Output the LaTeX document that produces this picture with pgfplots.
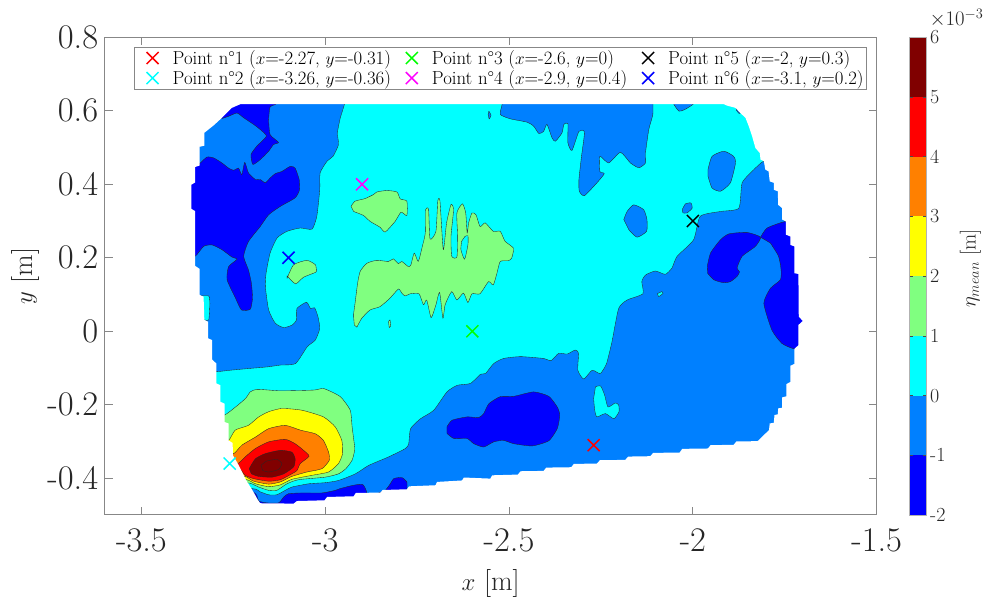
\documentclass[border=0pt]{standalone}
\usepackage{pgfplots}
\pgfplotsset{compat=1.18}
\definecolor{cA}{RGB}{0,0,255}
\definecolor{cB}{RGB}{0,128,255}
\definecolor{cC}{RGB}{0,255,255}
\definecolor{cD}{RGB}{128,255,128}
\definecolor{cE}{RGB}{255,255,0}
\definecolor{cF}{RGB}{255,128,0}
\definecolor{cG}{RGB}{255,0,0}
\definecolor{cH}{RGB}{128,0,0}
\definecolor{mG}{RGB}{0,255,0}
\definecolor{mM}{RGB}{255,0,255}
\definecolor{tc}{RGB}{38,38,38}
\definecolor{axc}{RGB}{135,135,135}
\pgfplotsset{ctr/.style={fill=#1,draw=black!85,line width=0.35pt,line join=round,smooth,tension=0.35,forget plot},
 pt/.style={only marks,mark=x,mark size=8.5pt,#1,mark options={line width=1.5pt}}}
\begin{document}
\begin{tikzpicture}
\useasboundingbox (-104.7pt,-86pt) rectangle (882.3pt,515pt);
\begin{axis}[
  scale only axis,width=772pt,height=477.7pt,
  xmin=-3.6,xmax=-1.5,ymin=-0.5,ymax=0.8,
  axis on top,
  xtick={-3.5,-3,-2.5,-2,-1.5},xticklabels={-3.5,-3,-2.5,-2,-1.5},
  ytick={-0.4,-0.2,0,0.2,0.4,0.6,0.8},yticklabels={-0.4,-0.2,0,0.2,0.4,0.6,0.8},
  tick align=inside,major tick length=8pt,
  tick style={axc,line width=0.9pt},
  axis line style={axc,line width=1pt},
  ticklabel style={text=tc},
  tick label style={font=\fontsize{34.5}{36}\selectfont},
  xticklabel style={yshift=-10pt},
  yticklabel style={xshift=-3pt},
  xlabel={$x$ [m]},ylabel={$y$ [m]},
  label style={font=\fontsize{28}{30}\selectfont,text=tc},
  xlabel style={at={(axis description cs:0.5,-0.144)},anchor=center},
  ylabel style={at={(axis description cs:-0.103,0.5)},anchor=center},
  legend columns=3,legend cell align=left,
  legend image code/.code={\path (-17pt,0pt) (17.7pt,0pt);\draw[#1] plot coordinates {(0pt,0pt)};},
  legend style={at={(rel axis cs:0.0383,0.980)},anchor=north west,draw=axc,line width=0.8pt,
    font=\fontsize{18.8}{21}\selectfont,inner xsep=0.5pt,inner ysep=1pt,row sep=0.5pt,
    /tikz/every even column/.append style={column sep=1.5pt}},
]
% azure base (-1 to 0)
\addplot[fill=cB,draw=none,forget plot] coordinates {(-3.45,0.65)(-1.65,0.65)(-1.65,-0.5)(-3.45,-0.5)} -- cycle;
% dark blue patches
\addplot[ctr=cA] coordinates {(-3.281,0.579)(-3.263,0.585)(-3.240,0.594)(-3.222,0.581)(-3.195,0.563)(-3.177,0.549)(-3.160,0.531)(-3.186,0.504)(-3.202,0.481)(-3.197,0.454)(-3.177,0.467)(-3.154,0.490)(-3.141,0.508)(-3.127,0.514)(-3.150,0.535)(-3.154,0.576)(-3.150,0.611)(-3.136,0.617)(-3.136,0.631)(-3.304,0.631)(-3.304,0.604)} -- cycle;
\addplot[ctr=cA] coordinates {(-3.385,0.458)(-3.354,0.449)(-3.340,0.458)(-3.322,0.474)(-3.304,0.472)(-3.281,0.458)(-3.263,0.444)(-3.249,0.438)(-3.236,0.444)(-3.227,0.426)(-3.219,0.460)(-3.209,0.431)(-3.190,0.413)(-3.177,0.413)(-3.163,0.404)(-3.150,0.417)(-3.136,0.429)(-3.118,0.435)(-3.095,0.449)(-3.082,0.444)(-3.071,0.413)(-3.070,0.385)(-3.082,0.363)(-3.122,0.340)(-3.154,0.317)(-3.177,0.285)(-3.209,0.244)(-3.222,0.204)(-3.209,0.167)(-3.201,0.131)(-3.198,0.090)(-3.204,0.060)(-3.228,0.058)(-3.244,0.090)(-3.267,0.140)(-3.263,0.176)(-3.240,0.196)(-3.254,0.202)(-3.281,0.222)(-3.308,0.235)(-3.331,0.231)(-3.354,0.204)(-3.385,0.204)} -- cycle;
\addplot[ctr=cA] coordinates {(-1.961,0.176)(-1.952,0.213)(-1.925,0.249)(-1.902,0.265)(-1.853,0.269)(-1.816,0.256)(-1.830,0.231)(-1.866,0.204)(-1.880,0.172)(-1.873,0.162)(-1.880,0.149)(-1.898,0.135)(-1.916,0.132)(-1.943,0.140)(-1.960,0.158)} -- cycle;
\addplot[ctr=cA] coordinates {(-1.816,0.256)(-1.798,0.281)(-1.747,0.299)(-1.680,0.299)(-1.680,-0.048)(-1.724,-0.048)(-1.758,-0.033)(-1.785,0.003)(-1.807,0.076)(-1.789,0.117)(-1.762,0.140)(-1.760,0.167)(-1.767,0.204)(-1.789,0.240)} -- cycle;
\addplot[ctr=cA] coordinates {(-2.669,-0.260)(-2.655,-0.242)(-2.614,-0.233)(-2.583,-0.235)(-2.569,-0.224)(-2.555,-0.197)(-2.524,-0.178)(-2.487,-0.177)(-2.433,-0.165)(-2.392,-0.177)(-2.369,-0.206)(-2.362,-0.228)(-2.369,-0.265)(-2.392,-0.298)(-2.437,-0.312)(-2.487,-0.306)(-2.515,-0.297)(-2.542,-0.301)(-2.569,-0.315)(-2.596,-0.306)(-2.614,-0.292)(-2.650,-0.292)(-2.669,-0.278)} -- cycle;
\addplot[ctr=cA] coordinates {(-3.218,-0.438)(-3.195,-0.438)(-3.186,-0.447)(-3.181,-0.462)(-3.159,-0.467)(-3.127,-0.467)(-3.113,-0.451)(-3.100,-0.442)(-3.063,-0.440)(-3.009,-0.440)(-2.973,-0.433)(-2.959,-0.428)(-2.923,-0.419)(-2.898,-0.417)(-2.887,-0.440)(-2.887,-0.497)(-3.218,-0.497)} -- cycle;
\addplot[ctr=cA] coordinates {(-2.855,-0.440)(-2.837,-0.433)(-2.823,-0.415)(-2.814,-0.401)(-2.792,-0.398)(-2.778,-0.410)(-2.778,-0.430)(-2.778,-0.497)(-2.855,-0.497)} -- cycle;
% cyan (0 to 1)
\addplot[ctr=cC] coordinates {(-2.948,0.631)(-2.948,0.617)(-2.959,0.581)(-2.967,0.540)(-2.964,0.508)(-2.979,0.476)(-2.995,0.463)(-3.014,0.431)(-3.015,0.385)(-3.023,0.313)(-3.036,0.278)(-3.068,0.281)(-3.104,0.272)(-3.131,0.254)(-3.150,0.213)(-3.161,0.158)(-3.163,0.122)(-3.154,0.058)(-3.136,0.022)(-3.113,0.010)(-3.090,0.017)(-3.078,0.031)(-3.077,0.062)(-3.051,0.079)(-3.040,0.062)(-3.029,0.064)(-3.020,0.040)(-3.015,0.008)(-3.027,-0.024)(-3.049,-0.042)(-3.081,-0.088)(-3.122,-0.092)(-3.158,-0.097)(-3.204,-0.101)(-3.258,-0.106)(-3.296,-0.110)(-3.349,-0.110)(-3.349,-0.424)(-3.199,-0.428)(-3.177,-0.437)(-3.154,-0.445)(-3.132,-0.445)(-3.109,-0.433)(-3.091,-0.424)(-3.045,-0.415)(-3.000,-0.412)(-2.964,-0.406)(-2.918,-0.388)(-2.882,-0.365)(-2.828,-0.342)(-2.782,-0.319)(-2.773,-0.306)(-2.768,-0.265)(-2.741,-0.238)(-2.705,-0.215)(-2.669,-0.165)(-2.641,-0.147)(-2.605,-0.142)(-2.578,-0.117)(-2.564,-0.115)(-2.542,-0.088)(-2.515,-0.074)(-2.469,-0.069)(-2.406,-0.074)(-2.386,-0.080)(-2.365,-0.060)(-2.342,-0.062)(-2.320,-0.051)(-2.311,-0.060)(-2.313,-0.106)(-2.297,-0.130)(-2.274,-0.106)(-2.252,-0.115)(-2.235,-0.088)(-2.220,-0.028)(-2.202,0.062)(-2.179,0.085)(-2.136,0.102)(-2.139,0.135)(-2.129,0.153)(-2.102,0.164)(-2.075,0.155)(-2.057,0.172)(-2.043,0.204)(-1.998,0.249)(-1.980,0.313)(-1.925,0.326)(-1.875,0.335)(-1.866,0.404)(-1.834,0.440)(-1.807,0.463)(-1.762,0.463)(-1.762,0.631)} -- cycle;
\addplot[ctr=cC] coordinates {(-3.340,0.096)(-3.317,0.096)(-3.314,0.076)(-3.317,0.031)(-3.329,0.031)(-3.340,0.031)} -- cycle;
\addplot[ctr=cC] coordinates {(-2.265,-0.151)(-2.251,-0.149)(-2.240,-0.174)(-2.231,-0.206)(-2.211,-0.195)(-2.202,-0.201)(-2.201,-0.219)(-2.215,-0.238)(-2.238,-0.224)(-2.261,-0.233)(-2.267,-0.215)(-2.270,-0.183)} -- cycle;
\addplot[ctr=cC] coordinates {(-2.097,0.102)(-2.084,0.108)(-2.081,0.103)(-2.093,0.094)} -- cycle;
% azure islands inside the cyan
\addplot[ctr=cB] coordinates {(-2.519,0.631)(-2.519,0.617)(-2.524,0.590)(-2.496,0.578)(-2.451,0.569)(-2.433,0.558)(-2.419,0.538)(-2.406,0.544)(-2.397,0.563)(-2.383,0.526)(-2.374,0.517)(-2.356,0.540)(-2.351,0.563)(-2.340,0.565)(-2.340,0.513)(-2.329,0.492)(-2.310,0.544)(-2.295,0.542)(-2.303,0.476)(-2.310,0.413)(-2.309,0.381)(-2.295,0.369)(-2.261,0.404)(-2.241,0.429)(-2.253,0.435)(-2.253,0.476)(-2.229,0.458)(-2.197,0.487)(-2.170,0.458)(-2.147,0.445)(-2.129,0.458)(-2.129,0.485)(-2.120,0.549)(-2.109,0.590)(-2.109,0.631)} -- cycle;
\addplot[ctr=cB] coordinates {(-2.052,0.631)(-2.052,0.618)(-2.038,0.599)(-2.023,0.603)(-1.999,0.618)(-1.999,0.631)} -- cycle;
\addplot[ctr=cB] coordinates {(-2.555,0.599)(-2.549,0.588)(-2.554,0.578)(-2.557,0.590)} -- cycle;
\addplot[ctr=cB] coordinates {(-1.959,0.440)(-1.948,0.476)(-1.916,0.490)(-1.889,0.476)(-1.884,0.458)(-1.898,0.404)(-1.925,0.381)(-1.948,0.390)(-1.959,0.422)} -- cycle;
\addplot[ctr=cB] coordinates {(-2.029,0.331)(-2.020,0.347)(-2.005,0.349)(-2.002,0.335)(-2.016,0.322)(-2.027,0.322)} -- cycle;
\addplot[ctr=cB] coordinates {(-2.188,0.304)(-2.179,0.326)(-2.161,0.344)(-2.134,0.331)(-2.125,0.304)(-2.126,0.272)(-2.152,0.256)(-2.174,0.276)} -- cycle;
\addplot[ctr=cB] coordinates {(-1.882,0.608)(-1.871,0.594)(-1.875,0.593)(-1.882,0.602)} -- cycle;
% green (1 to 2)
\addplot[ctr=cD] coordinates {(-3.303,-0.228)(-3.274,-0.228)(-3.244,-0.206)(-3.217,-0.183)(-3.204,-0.165)(-3.185,-0.158)(-3.122,-0.162)(-3.031,-0.160)(-3.004,-0.156)(-2.959,-0.178)(-2.932,-0.215)(-2.927,-0.260)(-2.920,-0.315)(-2.920,-0.324)(-2.927,-0.351)(-2.944,-0.374)(-2.964,-0.388)(-3.000,-0.397)(-3.073,-0.404)(-3.104,-0.415)(-3.132,-0.433)(-3.154,-0.433)(-3.181,-0.424)(-3.207,-0.413)(-3.254,-0.413)} -- cycle;
\addplot[ctr=cD] coordinates {(-2.930,0.340)(-2.919,0.354)(-2.892,0.361)(-2.869,0.372)(-2.860,0.379)(-2.833,0.383)(-2.805,0.379)(-2.796,0.360)(-2.778,0.354)(-2.778,0.315)(-2.794,0.324)(-2.810,0.299)(-2.837,0.270)(-2.851,0.283)(-2.878,0.299)(-2.896,0.315)(-2.923,0.326)} -- cycle;
\addplot[ctr=cD] coordinates {(-2.921,0.017)(-2.923,0.045)(-2.919,0.076)(-2.912,0.131)(-2.905,0.163)(-2.887,0.185)(-2.860,0.193)(-2.828,0.190)(-2.815,0.197)(-2.801,0.184)(-2.792,0.190)(-2.774,0.176)(-2.767,0.181)(-2.758,0.213)(-2.747,0.190)(-2.736,0.231)(-2.728,0.267)(-2.727,0.331)(-2.719,0.331)(-2.715,0.251)(-2.699,0.272)(-2.694,0.354)(-2.688,0.354)(-2.679,0.222)(-2.670,0.295)(-2.658,0.345)(-2.651,0.331)(-2.658,0.258)(-2.656,0.204)(-2.642,0.202)(-2.640,0.258)(-2.642,0.322)(-2.627,0.347)(-2.618,0.322)(-2.614,0.267)(-2.610,0.295)(-2.601,0.322)(-2.590,0.317)(-2.579,0.285)(-2.565,0.295)(-2.543,0.272)(-2.524,0.272)(-2.511,0.245)(-2.488,0.226)(-2.493,0.199)(-2.502,0.192)(-2.524,0.190)(-2.533,0.158)(-2.543,0.126)(-2.556,0.135)(-2.579,0.102)(-2.601,0.102)(-2.612,0.078)(-2.624,0.104)(-2.642,0.085)(-2.656,0.108)(-2.674,0.072)(-2.680,0.035)(-2.689,0.106)(-2.699,0.072)(-2.712,0.037)(-2.724,0.085)(-2.733,0.072)(-2.745,0.102)(-2.769,0.102)(-2.783,0.096)(-2.792,0.104)(-2.801,0.115)(-2.824,0.090)(-2.851,0.067)(-2.878,0.058)(-2.901,0.035)(-2.914,0.011)} -- cycle;
\addplot[ctr=cC] coordinates {(-2.620,0.258)(-2.612,0.260)(-2.612,0.235)(-2.621,0.196)(-2.631,0.222)(-2.629,0.245)} -- cycle;
\addplot[ctr=cD] coordinates {(-2.828,0.026)(-2.824,0.031)(-2.822,0.015)(-2.826,0.010)} -- cycle;
\addplot[ctr=cD] coordinates {(-3.104,0.144)(-3.086,0.181)(-3.050,0.193)(-3.027,0.181)(-3.024,0.163)(-3.027,0.160)(-3.059,0.147)(-3.081,0.129)(-3.104,0.151)} -- cycle;
% yellow (2 to 3)
\addplot[ctr=cE] coordinates {(-3.290,-0.297)(-3.263,-0.297)(-3.245,-0.269)(-3.209,-0.256)(-3.181,-0.233)(-3.154,-0.219)(-3.118,-0.210)(-3.063,-0.215)(-3.005,-0.233)(-2.973,-0.260)(-2.955,-0.297)(-2.953,-0.333)(-2.964,-0.360)(-2.991,-0.383)(-3.036,-0.392)(-3.091,-0.403)(-3.122,-0.418)(-3.154,-0.423)(-3.190,-0.415)(-3.213,-0.404)(-3.254,-0.404)} -- cycle;
% orange (3 to 4)
\addplot[ctr=cF] coordinates {(-3.281,-0.333)(-3.249,-0.333)(-3.227,-0.310)(-3.190,-0.288)(-3.154,-0.265)(-3.109,-0.256)(-3.068,-0.269)(-3.027,-0.279)(-3.005,-0.297)(-2.991,-0.329)(-2.989,-0.351)(-3.009,-0.374)(-3.050,-0.383)(-3.091,-0.395)(-3.122,-0.410)(-3.154,-0.416)(-3.195,-0.408)(-3.218,-0.395)(-3.254,-0.395)} -- cycle;
% red (4 to 5)
\addplot[ctr=cG] coordinates {(-3.272,-0.360)(-3.238,-0.360)(-3.218,-0.342)(-3.190,-0.319)(-3.154,-0.301)(-3.109,-0.294)(-3.082,-0.306)(-3.059,-0.324)(-3.044,-0.340)(-3.068,-0.360)(-3.077,-0.379)(-3.091,-0.388)(-3.122,-0.404)(-3.154,-0.408)(-3.195,-0.401)(-3.218,-0.392)(-3.231,-0.378)(-3.272,-0.378)} -- cycle;
% dark red (5 to 6)
\addplot[ctr=cH] coordinates {(-3.207,-0.374)(-3.190,-0.347)(-3.163,-0.333)(-3.122,-0.324)(-3.091,-0.329)(-3.082,-0.347)(-3.086,-0.369)(-3.113,-0.388)(-3.145,-0.397)(-3.181,-0.395)(-3.201,-0.388)} -- cycle;
\addplot[ctr=cH] coordinates {(-3.175,-0.365)(-3.159,-0.353)(-3.131,-0.349)(-3.118,-0.360)(-3.127,-0.376)(-3.154,-0.383)(-3.170,-0.379)} -- cycle;
% white outside the measured region
\addplot[fill=white,draw=none,even odd rule,forget plot] coordinates {(-3.231,0.8)(-3.6,0.8)(-3.6,-0.5)(-1.5,-0.5)(-1.5,0.8)(-3.231,0.8)
(-3.231,0.618)(-3.254,0.608)(-3.281,0.581)(-3.304,0.560)(-3.329,0.540)(-3.329,0.505)(-3.342,0.502)(-3.342,0.451)(-3.354,0.447)(-3.354,0.405)(-3.364,0.399)(-3.364,0.333)(-3.354,0.327)(-3.354,0.178)(-3.342,0.170)(-3.342,0.099)(-3.331,0.094)(-3.329,0.031)(-3.319,0.026)(-3.319,-0.019)(-3.308,-0.024)(-3.308,-0.077)(-3.296,-0.088)(-3.296,-0.142)(-3.285,-0.147)(-3.285,-0.192)(-3.274,-0.197)(-3.274,-0.247)(-3.263,-0.251)(-3.263,-0.297)(-3.252,-0.304)(-3.251,-0.338)(-3.238,-0.360)(-3.216,-0.404)(-3.195,-0.438)(-3.184,-0.458)(-3.177,-0.468)(-3.086,-0.469)(-3.077,-0.462)(-3.002,-0.460)(-2.995,-0.451)(-2.923,-0.449)(-2.917,-0.440)(-2.850,-0.439)(-2.844,-0.432)(-2.778,-0.430)(-2.772,-0.422)(-2.700,-0.419)(-2.696,-0.410)(-2.628,-0.406)(-2.623,-0.398)(-2.551,-0.401)(-2.546,-0.392)(-2.476,-0.390)(-2.469,-0.381)(-2.406,-0.380)(-2.399,-0.371)(-2.331,-0.370)(-2.324,-0.361)(-2.261,-0.360)(-2.253,-0.351)(-2.184,-0.350)(-2.176,-0.341)(-2.116,-0.340)(-2.108,-0.331)(-2.036,-0.330)(-2.029,-0.320)(-1.959,-0.319)(-1.952,-0.310)(-1.889,-0.309)(-1.882,-0.300)(-1.824,-0.299)(-1.793,-0.269)(-1.791,-0.251)(-1.780,-0.249)(-1.778,-0.228)(-1.769,-0.226)(-1.768,-0.210)(-1.757,-0.208)(-1.757,-0.180)(-1.746,-0.177)(-1.746,-0.144)(-1.735,-0.138)(-1.735,-0.094)(-1.724,-0.089)(-1.724,-0.048)(-1.713,-0.038)(-1.713,0.017)(-1.701,0.028)(-1.712,0.040)(-1.713,0.156)(-1.724,0.158)(-1.724,0.231)(-1.735,0.235)(-1.735,0.258)(-1.747,0.263)(-1.747,0.299)(-1.757,0.304)(-1.757,0.335)(-1.768,0.344)(-1.769,0.381)(-1.780,0.385)(-1.780,0.404)(-1.791,0.408)(-1.794,0.435)(-1.803,0.440)(-1.807,0.463)(-1.816,0.467)(-1.818,0.485)(-1.830,0.499)(-1.839,0.531)(-1.848,0.558)(-1.857,0.581)(-1.871,0.594)(-1.884,0.608)(-1.907,0.614)(-1.916,0.618)(-3.231,0.618)} -- cycle;
% measurement points (row order: the legend fills row by row)
\addplot[pt=cG] coordinates {(-2.27,-0.31)};
\addlegendentry{Point n°1 ($x$=-2.27, $y$=-0.31)}
\addplot[pt=mG] coordinates {(-2.6,0)};
\addlegendentry{Point n°3 ($x$=-2.6, $y$=0)}
\addplot[pt=black] coordinates {(-2,0.3)};
\addlegendentry{Point n°5 ($x$=-2, $y$=0.3)}
\addplot[pt=cC] coordinates {(-3.26,-0.36)};
\addlegendentry{Point n°2 ($x$=-3.26, $y$=-0.36)}
\addplot[pt=mM] coordinates {(-2.9,0.4)};
\addlegendentry{Point n°4 ($x$=-2.9, $y$=0.4)}
\addplot[pt=cA] coordinates {(-3.1,0.2)};
\addlegendentry{Point n°6 ($x$=-3.1, $y$=0.2)}
\end{axis}
\begin{axis}[
  at={(804.5pt,0pt)},
  scale only axis,width=17.5pt,height=477.7pt,
  xmin=0,xmax=1,ymin=-2,ymax=6,clip=false,
  axis on top,
  xtick=\empty,
  ytick={-2,-1,0,1,2,3,4,5,6},yticklabels={-2,-1,0,1,2,3,4,5,6},
  yticklabel pos=right,
  tick align=inside,major tick length=4pt,
  tick style={black!70,line width=0.5pt},
  axis line style={black!30,line width=0.5pt},
  tick label style={font=\fontsize{20}{22}\selectfont,text=tc},
  ylabel={$\eta_{mean}$ [m]},
  ylabel style={font=\fontsize{21}{23}\selectfont,text=tc,at={(axis description cs:3.5,0.517)},anchor=center},
]
\addplot[fill=cA,draw=none] coordinates {(0,-2)(1,-2)(1,-1)(0,-1)} -- cycle;
\addplot[fill=cB,draw=none] coordinates {(0,-1)(1,-1)(1,0)(0,0)} -- cycle;
\addplot[fill=cC,draw=none] coordinates {(0,0)(1,0)(1,1)(0,1)} -- cycle;
\addplot[fill=cD,draw=none] coordinates {(0,1)(1,1)(1,2)(0,2)} -- cycle;
\addplot[fill=cE,draw=none] coordinates {(0,2)(1,2)(1,3)(0,3)} -- cycle;
\addplot[fill=cF,draw=none] coordinates {(0,3)(1,3)(1,4)(0,4)} -- cycle;
\addplot[fill=cG,draw=none] coordinates {(0,4)(1,4)(1,5)(0,5)} -- cycle;
\addplot[fill=cH,draw=none] coordinates {(0,5)(1,5)(1,6)(0,6)} -- cycle;
\node[anchor=west,font=\fontsize{20}{22}\selectfont,text=tc,inner sep=0pt] at (rel axis cs:1.15,1.04) {$\times 10^{-3}$};
\end{axis}
\end{tikzpicture}
\end{document}
